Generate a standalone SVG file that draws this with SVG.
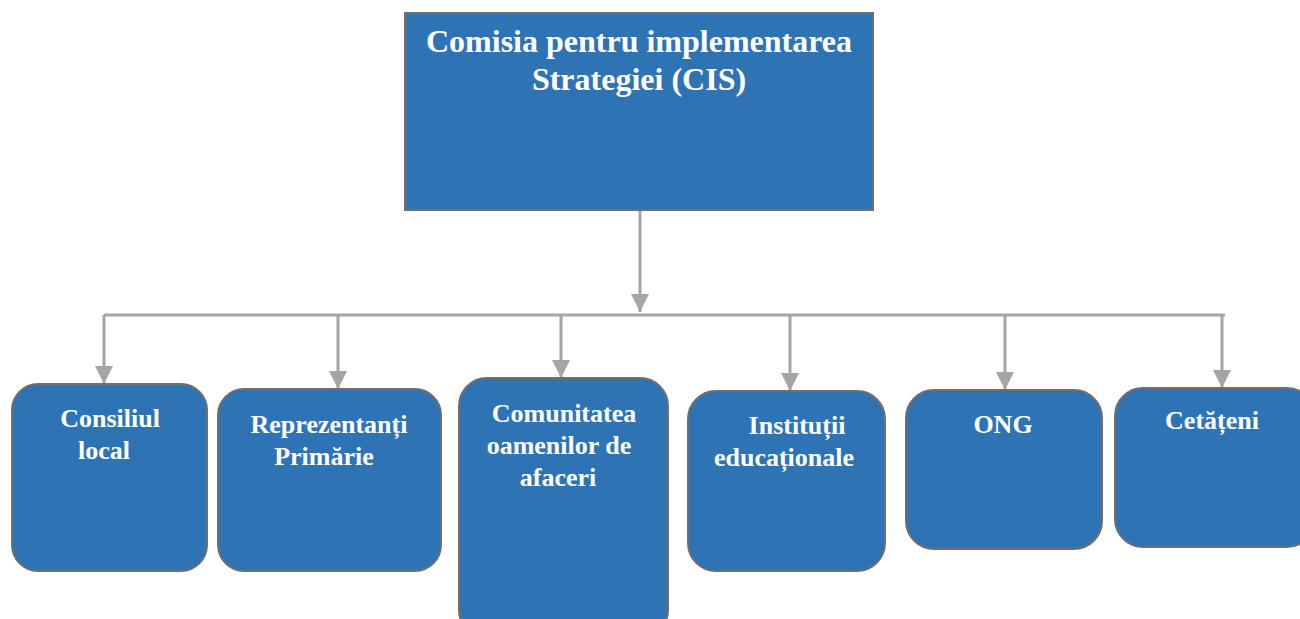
<svg xmlns="http://www.w3.org/2000/svg" width="1300" height="619" viewBox="0 0 1300 619">
<defs>
<style>
.box{fill:#2E74B5;stroke:#6f6f6f;stroke-width:2}
.t{font-family:"Liberation Serif","Times New Roman",serif;font-weight:bold;fill:#ffffff;text-anchor:middle}
.tt{font-size:32px}
.ct{font-size:26px}
.conn{stroke:#A5A5A5;stroke-width:3;fill:none}
</style>
<marker id="arr" viewBox="0 0 20 18" refX="18" refY="9" markerWidth="20" markerHeight="18" orient="auto" markerUnits="userSpaceOnUse">
<path d="M0,0 L18,9 L0,18 Z" fill="#A5A5A5"/>
</marker>
</defs>
<g id="connectors">
<path class="conn" d="M640,210 V312" marker-end="url(#arr)"/>
<path class="conn" d="M104,315 H1225"/>
<path class="conn" d="M104,315 V384" marker-end="url(#arr)"/>
<path class="conn" d="M338,315 V389" marker-end="url(#arr)"/>
<path class="conn" d="M561,315 V378" marker-end="url(#arr)"/>
<path class="conn" d="M790,315 V391" marker-end="url(#arr)"/>
<path class="conn" d="M1005,315 V390" marker-end="url(#arr)"/>
<path class="conn" d="M1222,315 V388" marker-end="url(#arr)"/>
</g>
<g id="cis">
<rect class="box" x="405" y="13" width="468" height="197"/>
<text class="t tt" x="639" y="52">Comisia pentru implementarea</text>
<text class="t tt" x="639" y="90">Strategiei (CIS)</text>
</g>
<g id="consiliul">
<rect class="box" x="12" y="384" width="195" height="187" rx="26"/>
<text class="t ct" x="110" y="427">Consiliul</text>
<text class="t ct" x="104" y="459">local</text>
</g>
<g id="reprezentanti">
<rect class="box" x="218" y="389" width="223" height="182" rx="26"/>
<text class="t ct" x="329" y="433">Reprezentanți</text>
<text class="t ct" x="324" y="465">Primărie</text>
</g>
<g id="comunitatea">
<rect class="box" x="459" y="378" width="209" height="260" rx="28"/>
<text class="t ct" x="564" y="422">Comunitatea</text>
<text class="t ct" x="559" y="454">oamenilor de</text>
<text class="t ct" x="558" y="486">afaceri</text>
</g>
<g id="institutii">
<rect class="box" x="688" y="391" width="197" height="180" rx="28"/>
<text class="t ct" x="797" y="434">Instituții</text>
<text class="t ct" x="784" y="466">educaționale</text>
</g>
<g id="ong">
<rect class="box" x="906" y="390" width="196" height="159" rx="28"/>
<text class="t ct" x="1003" y="433">ONG</text>
</g>
<g id="cetateni">
<rect class="box" x="1115" y="388" width="200" height="159" rx="28"/>
<text class="t ct" x="1212" y="429">Cetățeni</text>
</g>
</svg>
